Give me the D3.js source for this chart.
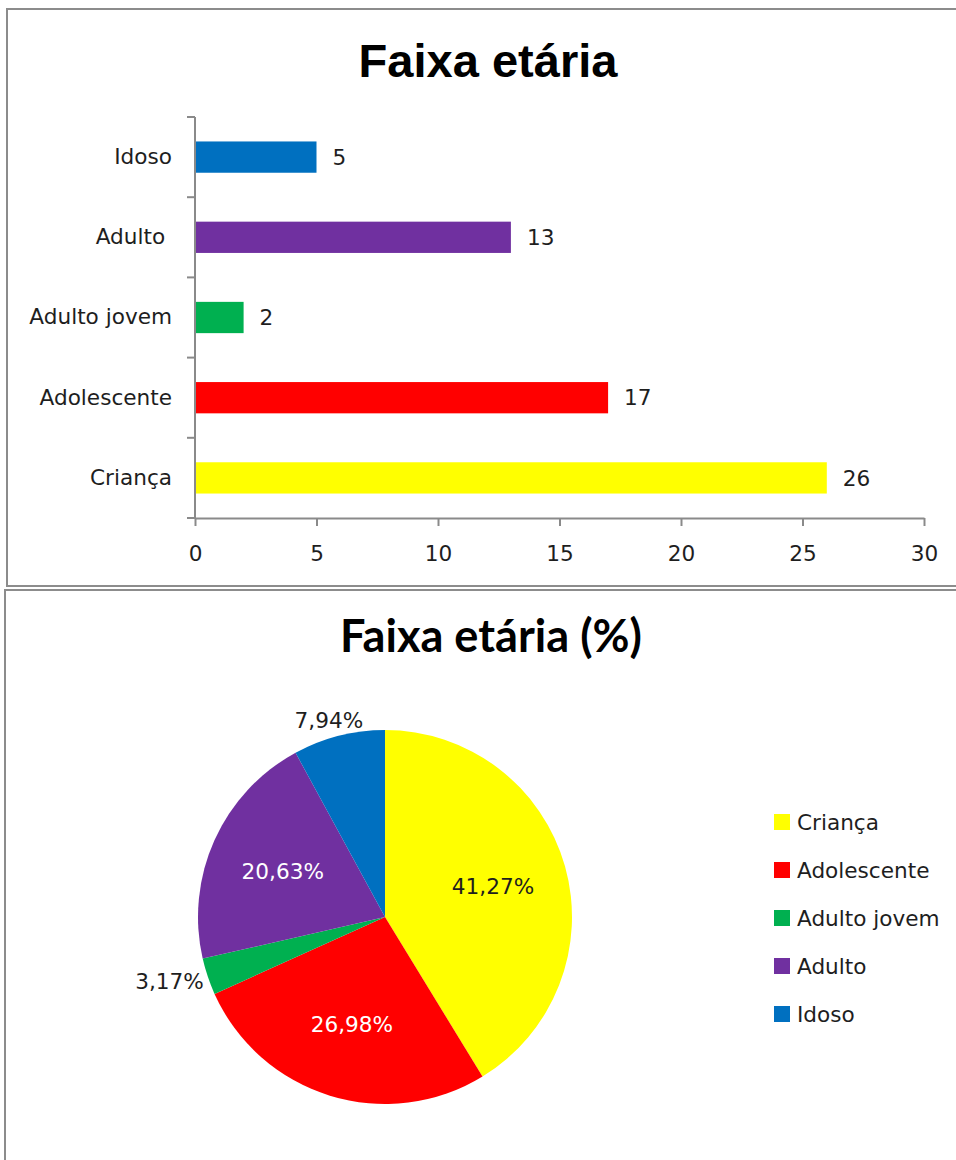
<!DOCTYPE html>
<html>
<head>
<meta charset="utf-8">
<script src="https://cdn.jsdelivr.net/npm/d3@7"></script>
<style>
    body { margin: 0; background: #fff; }
    svg text { font-family: "DejaVu Sans", Verdana, sans-serif; fill: #1e1e1e; }
    .axis path, .axis line { stroke: #8a8a8a; stroke-width: 2; }
</style>
</head>
<body>
<div id="chart"></div>
<script>
// chart data
const categories = ["Criança", "Adolescente", "Adulto jovem", "Adulto ", "Idoso"];
const counts = [26, 17, 2, 13, 5];
const xTicks = [0, 5, 10, 15, 20, 25, 30];
const barTitle = "Faixa etária";
const pieTitle = "Faixa etária (%)";

// excel-like colours for each category
const color = d3.scaleOrdinal()
    .domain(categories)
    .range(["#FFFF00", "#FF0000", "#00B050", "#7030A0", "#0070C0"]);

const rows = categories.map((c, i) => ({name: c, value: counts[i]}));

// brazilian number format -> 41,27%
const ptBR = d3.formatLocale({decimal: ",", thousands: ".", grouping: [3], currency: ["R$", ""]});
const fmtPct = ptBR.format(".2%");

const labelSize = "21.6px";

const svg = d3.select("#chart").append("svg")
    .attr("width", 956)
    .attr("height", 1160);

// shrink / grow a title so it fills the same width as in the picture
function fitText(sel, targetWidth) {
    let size = parseFloat(sel.style("font-size"));
    let w = sel.node().getComputedTextLength();
    sel.style("font-size", (size * targetWidth / w) + "px");
}

class BarChart {

    constructor(svg, data) {
        this.svg = svg;
        this.data = data;
        this.initVis();
    }

    initVis() {
        let vis = this;

        // panel frame
        vis.svg.append("rect")
            .attr("x", 7).attr("y", 9)
            .attr("width", 960).attr("height", 577)
            .attr("fill", "none")
            .attr("stroke", "#8c8c8c")
            .attr("stroke-width", 2);

        vis.title = vis.svg.append("text")
            .attr("x", 488)
            .attr("y", 77)
            .attr("text-anchor", "middle")
            .style("font-family", "'Liberation Sans', Arial, sans-serif")
            .style("font-weight", "bold")
            .style("font-size", "47px")
            .style("fill", "#000")
            .text(barTitle);
        fitText(vis.title, 259);

        vis.left = 195;
        vis.right = 924;
        vis.top = 117;
        vis.bottom = 518;

        vis.x = d3.scaleLinear().domain([0, 30]).range([vis.left, vis.right]);
        vis.y = d3.scaleBand()
            .domain(vis.data.map(d => d.name))
            .range([vis.bottom, vis.top])
            .paddingInner(0.61)
            .paddingOuter(0.305);

        vis.updateVis();
    }

    updateVis() {
        let vis = this;

        // bars
        vis.svg.append("g").selectAll("rect")
            .data(vis.data)
            .enter().append("rect")
            .attr("x", vis.x(0))
            .attr("y", d => vis.y(d.name))
            .attr("width", d => vis.x(d.value) - vis.x(0))
            .attr("height", vis.y.bandwidth())
            .attr("fill", d => color(d.name));

        // value labels
        vis.svg.append("g").selectAll("text")
            .data(vis.data)
            .enter().append("text")
            .attr("x", d => vis.x(d.value) + 16)
            .attr("y", d => vis.y(d.name) + vis.y.bandwidth() / 2)
            .attr("dy", "0.36em")
            .style("font-size", labelSize)
            .text(d => d.value);

        // x axis
        let xAxis = vis.svg.append("g")
            .attr("class", "axis")
            .attr("transform", "translate(0," + vis.bottom + ")")
            .call(d3.axisBottom(vis.x).tickValues(xTicks).tickSize(8).tickSizeOuter(0).tickPadding(20));
        xAxis.selectAll("text").style("font-size", labelSize).style("font-family", null).attr("fill", null);

        // y axis with labels only, ticks drawn on the category borders below
        let yAxis = vis.svg.append("g")
            .attr("class", "axis")
            .attr("transform", "translate(" + vis.left + ",0)")
            .call(d3.axisLeft(vis.y).tickSize(0).tickSizeOuter(0).tickPadding(23));
        yAxis.selectAll("text")
            .style("font-size", labelSize)
            .style("font-family", null)
            .style("white-space", "pre")
            .attr("fill", null);
        yAxis.select(".domain").attr("d", "M0," + vis.top + "V" + vis.bottom);

        let step = vis.y.step();
        yAxis.selectAll(".border")
            .data(d3.range(vis.data.length + 1))
            .enter().append("line")
            .attr("class", "border")
            .attr("x1", -8).attr("x2", 0)
            .attr("y1", i => vis.bottom - i * step)
            .attr("y2", i => vis.bottom - i * step);
    }
}

class PieChart {

    constructor(svg, data) {
        this.svg = svg;
        this.data = data;
        this.initVis();
    }

    initVis() {
        let vis = this;

        vis.svg.append("rect")
            .attr("x", 5).attr("y", 590)
            .attr("width", 960).attr("height", 600)
            .attr("fill", "none")
            .attr("stroke", "#8c8c8c")
            .attr("stroke-width", 2);

        vis.title = vis.svg.append("text")
            .attr("x", 491)
            .attr("y", 652)
            .attr("text-anchor", "middle")
            .style("font-family", "Lato, 'Open Sans', sans-serif")
            .style("font-weight", "bold")
            .style("font-size", "40px")
            .style("fill", "#000")
            .text(pieTitle);
        fitText(vis.title, 302);

        vis.cx = 385;
        vis.cy = 917;
        vis.radius = 187;

        vis.pie = d3.pie().sort(null).value(d => d.value);
        vis.arc = d3.arc().innerRadius(0).outerRadius(vis.radius);
        vis.total = d3.sum(vis.data, d => d.value);

        vis.updateVis();
    }

    updateVis() {
        let vis = this;

        let g = vis.svg.append("g")
            .attr("transform", "translate(" + vis.cx + "," + vis.cy + ")");

        let arcs = vis.pie(vis.data);

        g.selectAll("path")
            .data(arcs)
            .enter().append("path")
            .attr("d", vis.arc)
            .attr("fill", d => color(d.data.name));

        // inside labels for big slices, outside for small ones
        let labels = g.selectAll("text")
            .data(arcs)
            .enter().append("text")
            .style("font-size", labelSize)
            .attr("text-anchor", "middle")
            .attr("dy", "0.36em")
            .text(d => fmtPct(d.data.value / vis.total));

        labels.each(function (d) {
            let a = (d.startAngle + d.endAngle) / 2;
            let s = Math.sin(a), c = -Math.cos(a);
            let t = d3.select(this);
            if (d.data.value / vis.total < 0.1) {
                let w = this.getComputedTextLength();
                let r = vis.radius + 6;
                t.attr("x", s * r + s * w / 2)
                    .attr("y", c * r + c * 10)
                    .style("fill", "#1e1e1e");
            } else {
                let r = vis.radius * 0.6;
                t.attr("x", s * r)
                    .attr("y", c * r)
                    .style("fill", d3.lab(color(d.data.name)).l > 70 ? "#1e1e1e" : "#fff");
            }
        });

        // legend
        let legend = vis.svg.append("g")
            .attr("transform", "translate(774,822)");

        let item = legend.selectAll("g")
            .data(vis.data)
            .enter().append("g")
            .attr("transform", (d, i) => "translate(0," + (i * 48) + ")");

        item.append("rect")
            .attr("x", 0).attr("y", -8)
            .attr("width", 16).attr("height", 16)
            .attr("fill", d => color(d.name));

        item.append("text")
            .attr("x", 23)
            .attr("dy", "0.36em")
            .style("font-size", labelSize)
            .text(d => d.name.trim());
    }
}

new BarChart(svg, rows);
new PieChart(svg, rows);
</script>
</body>
</html>
